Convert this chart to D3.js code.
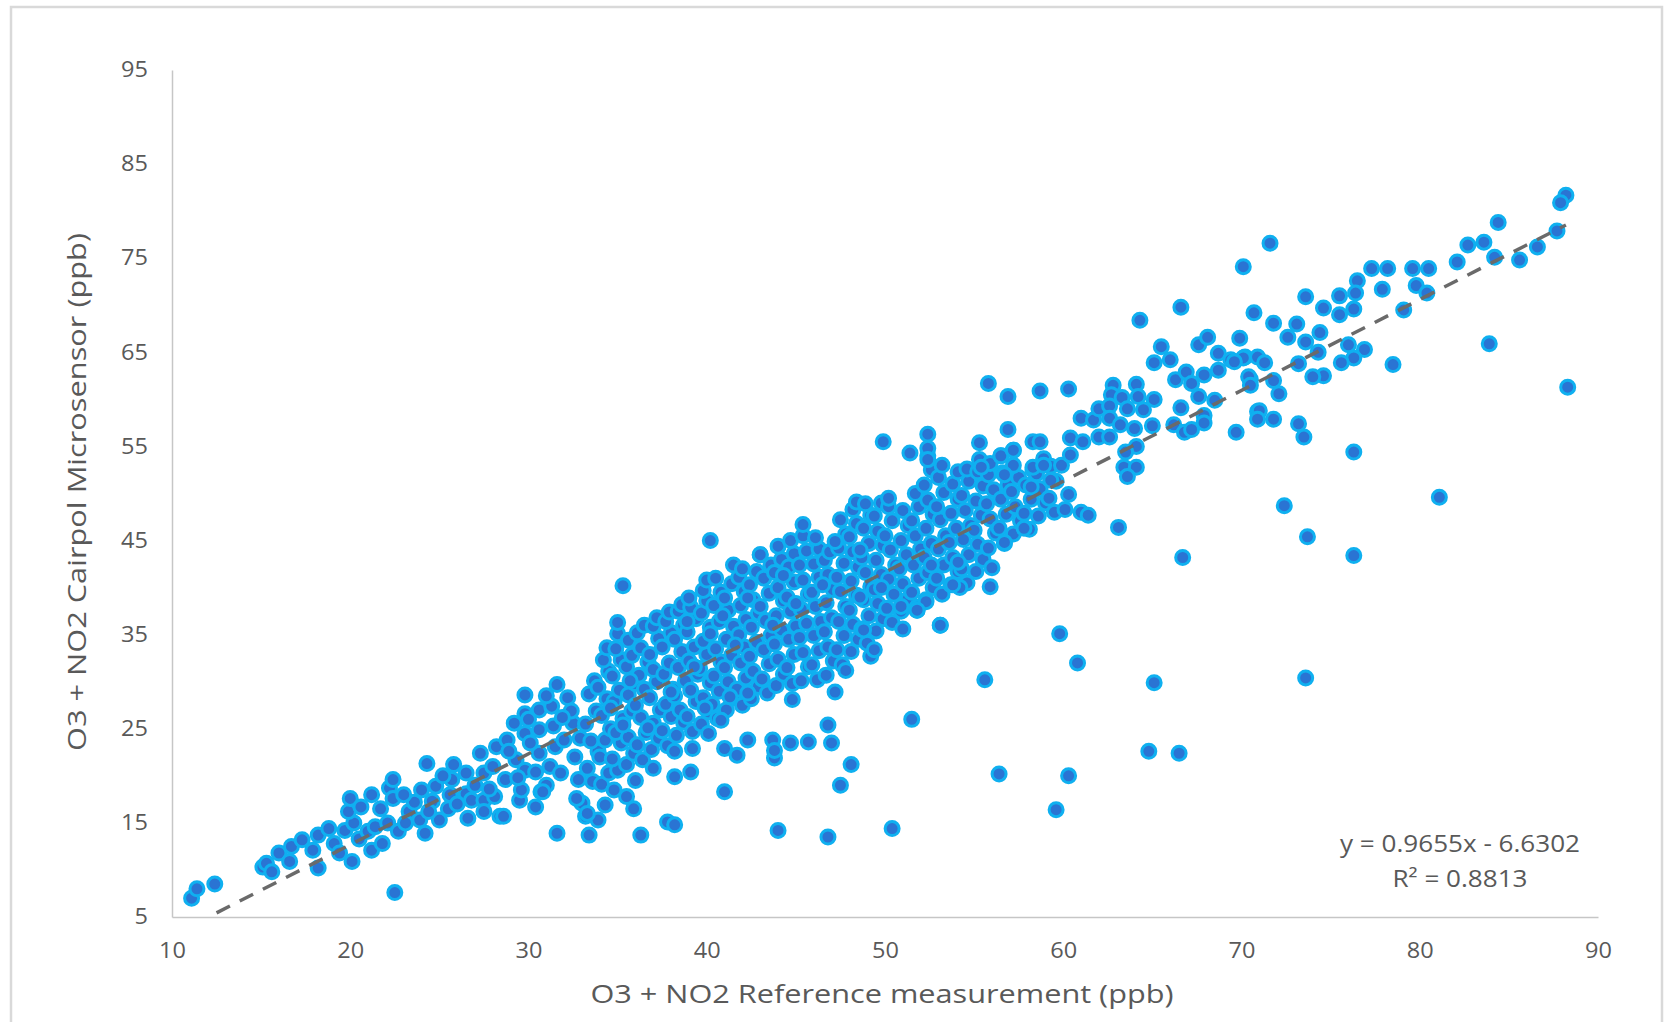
<!DOCTYPE html>
<html>
<head>
<meta charset="utf-8">
<script src="https://cdn.jsdelivr.net/npm/d3@7"></script>
<style>
  body { margin: 0; background: #fff; }
  text { font-family: "Open Sans", "Noto Sans", sans-serif; fill: #595959; }
</style>
</head>
<body>
<div id="chart"></div>
<script>
// axis ticks
const xTicks = [10, 20, 30, 40, 50, 60, 70, 80, 90];
const yTicks = [5, 15, 25, 35, 45, 55, 65, 75, 85, 95];

// [reference ppb, microsensor ppb]
const tailPoints = [
  [11.1,7.0],[11.4,8.0],[12.4,8.5],[15.1,10.3],[15.3,10.7],[15.6,9.8],[16.0,11.8],[16.6,10.9],[16.7,12.5],
  [17.3,13.2],[17.9,12.1],[18.2,10.2],[18.2,13.7],[18.8,14.4],[19.1,12.8],[19.4,11.8],[19.7,14.2],[20.1,10.9],
  [20.2,15.0],[20.5,13.3],[21.0,14.1],[21.2,12.1],[21.8,12.8],[21.4,14.6],[19.9,16.2],[20.0,17.6],[20.6,16.7],
  [21.2,18.0],[21.7,16.5],[22.2,18.7],[22.4,19.6],[22.4,17.6],[22.1,15.0],[22.7,14.1],[23.3,16.2],[23.1,15.0],
  [23.6,17.2],[23.9,15.3],[23.0,18.0]
];
const lowerBandPoints = [
  [24.3,21.3],[24.2,13.9],[24.8,18.9],[24.6,17.3],[25.0,15.3],[24.4,16.2],[25.8,21.2],[25.7,19.6],[25.6,18.0],
  [25.5,16.5],[26.6,15.5],[26.5,20.3],[26.5,18.1],[26.8,17.4],[27.3,22.4],[27.5,20.3],[27.5,17.4],[27.5,16.2],
  [28.4,15.7],[28.2,23.1],[28.0,21.0],[28.1,17.8],[28.8,23.8],[28.7,19.6],[29.3,21.7],[29.5,17.4],[30.4,16.7],
  [30.7,18.3],[29.8,28.6],[29.2,25.6],[29.8,26.6],[29.8,24.5],[29.8,20.6],[30.6,27.0],[30.6,24.9],[30.6,22.4],
  [30.4,20.4],[31.3,27.4],[31.5,23.1],[31.6,29.7],[31.4,25.3],[31.2,21.0],[31.0,19.0],[32.5,25.6],[32.2,28.3],
  [32.8,19.6],[33.2,15.7],[33.0,17.1],[32.6,22.0],[32.9,24.0],[32.4,26.9],[29.6,18.5],[30.8,18.3],[28.6,15.7],
  [27.0,19.0],[26.0,17.0],[25.2,20.0],[24.0,18.5],[27.8,18.6],[28.9,22.6],[29.4,19.8],[30.1,23.5],[30.0,26.0],
  [31.8,20.3],[32.0,23.8],[31.9,26.2],[31.0,28.5]
];
const midBandPoints = [
  [33.6,19.4],[33.3,20.8],[33.9,22.6],[33.5,23.7],[33.2,25.5],[33.8,26.9],[33.4,28.7],[33.7,30.1],
  [34.1,19.1],[34.5,20.3],[34.0,22.0],[34.3,23.8],[34.6,25.0],[34.1,26.4],[34.4,28.2],[33.9,29.4],[34.5,31.1],[34.2,32.3],[34.4,33.6],
  [35.0,20.6],[34.7,21.8],[35.2,23.5],[34.9,24.6],[35.3,26.1],[34.8,27.9],[35.1,29.1],[34.7,30.6],[35.2,32.3],[34.9,33.5],
  [35.0,35.1],[35.0,36.3],[35.3,40.2],
  [35.5,21.2],[35.9,22.4],[35.6,24.1],[35.3,25.4],[35.8,26.9],[35.6,28.6],[36.0,29.8],[35.5,31.6],[35.8,32.8],[35.6,34.4],
  [36.4,21.7],[36.1,23.3],[36.6,24.6],[36.3,26.2],[36.0,27.5],[36.5,29.2],[36.2,30.7],[36.7,32.1],[36.3,33.6],[36.1,35.2],[36.5,36.0],
  [36.9,22.8],[37.3,24.0],[37.0,25.6],[37.4,27.0],[36.8,28.3],[37.2,30.0],[37.0,31.3],[36.8,32.9],[37.3,34.6],[37.0,35.9],[37.2,36.8],
  [37.8,23.2],[37.5,24.8],[38.0,26.3],[37.7,27.6],[38.1,29.2],[37.6,30.8],[37.9,32.0],[37.5,33.7],[38.0,35.2],[37.7,36.4],[37.9,37.4],
  [38.3,24.3],[38.7,25.7],[38.5,27.0],[38.2,28.5],[38.8,30.1],[38.4,31.5],[38.6,33.2],[38.2,34.5],[38.7,36.0],[38.4,37.5],[38.6,38.2],
  [39.2,24.7],[38.9,26.3],[39.4,27.9],[39.1,29.1],[39.5,30.8],[39.0,32.2],[39.3,33.7],[38.9,35.3],[39.4,36.7],[39.1,37.9],[39.0,38.9],
  [39.7,25.5],[40.1,26.8],[39.8,28.3],[40.2,29.9],[39.6,31.4],[40.0,32.9],[39.8,34.3],[40.2,35.8],[39.7,37.3],[40.0,38.6],
  [39.8,39.7],[40.0,40.8],[40.2,45.0],
  [36.7,25.1],[38.0,28.9],[39.3,31.6],[38.9,36.4],[34.6,27.2],[35.7,30.1],
  [34.3,16.9],[35.9,16.5],[33.9,15.3],[33.3,16.0],[32.7,17.6],[35.5,17.8],[38.2,22.6],[39.2,22.9],[38.2,19.9],
  [39.1,20.4],[36.0,19.5],[34.8,18.5],[37.0,20.8]
];
const centerBandPoints = [
  [40.6,26.1],[40.3,27.6],[40.7,29.0],[40.4,30.6],[40.8,32.1],[40.5,33.5],[40.2,35.1],[40.7,36.4],[40.4,38.1],[40.8,39.5],[40.5,41.0],
  [41.1,27.0],[41.5,28.3],[41.2,30.0],[41.0,31.5],[41.4,32.8],[41.1,34.5],[41.5,35.9],[41.2,37.6],[41.0,38.9],[41.4,40.4],[41.5,42.4],
  [42.0,27.5],[41.7,29.2],[42.2,30.4],[41.9,32.0],[42.1,33.7],[41.8,35.0],[42.2,36.6],[41.9,38.1],[42.1,39.6],[41.8,41.1],[42.0,42.0],
  [42.5,28.2],[42.9,29.5],[42.6,31.1],[42.4,32.7],[42.8,34.2],[42.5,35.8],[42.9,37.3],[42.6,38.7],[42.4,40.3],[42.8,41.7],[43.0,43.5],
  [43.4,28.8],[43.1,30.3],[43.5,31.9],[43.2,33.4],[43.6,34.9],[43.3,36.5],[43.0,38.0],[43.5,39.4],[43.2,41.0],[43.6,42.4],
  [43.9,29.6],[44.3,30.8],[44.0,32.4],[43.8,34.0],[44.2,35.5],[43.9,37.0],[44.3,38.6],[44.0,40.0],[43.8,41.6],[44.2,43.0],[44.0,44.4],
  [44.8,29.8],[44.5,31.5],[44.9,32.9],[44.6,34.5],[45.0,35.9],[44.7,37.5],[44.5,39.0],[44.9,40.6],[44.6,42.2],[44.9,43.6],[44.7,45.0],
  [45.3,30.1],[45.7,31.6],[45.4,33.1],[45.2,34.7],[45.6,36.2],[45.3,37.7],[45.7,39.3],[45.4,40.8],[45.2,42.4],[45.6,43.9],[45.4,45.5],[45.4,46.7],
  [46.2,30.2],[45.9,31.8],[46.3,33.3],[46.0,34.9],[46.4,36.4],[46.1,38.0],[45.9,39.5],[46.3,41.1],[46.0,42.5],[46.3,44.1],[46.1,45.3],
  [46.7,30.7],[47.1,32.2],[46.8,33.7],[46.6,35.3],[47.0,36.8],[46.7,38.4],[47.1,39.8],[46.8,41.4],[46.6,42.9],[46.9,43.8],
  [47.6,31.8],[47.3,33.4],[47.7,34.9],[47.4,36.4],[47.8,38.0],[47.5,39.6],[47.3,41.1],[47.7,42.6],[47.4,44.2],[47.8,45.7],[47.5,47.2],
  [48.1,33.2],[48.5,34.5],[48.2,36.1],[48.0,37.6],[48.4,39.2],[48.1,40.7],[48.5,42.2],[48.2,43.8],[48.0,45.4],[48.4,46.8],[48.2,48.3],[48.4,49.1],
  [49.0,34.1],[48.7,35.6],[49.1,37.0],[48.8,38.7],[49.2,40.1],[48.9,41.6],[48.7,43.2],[49.1,44.7],[48.8,46.3],[49.2,47.7],[48.9,48.9],
  [49.5,35.4],[49.9,36.7],[49.6,38.3],[49.4,39.8],[49.8,41.4],[49.5,42.9],[49.9,44.5],[49.6,46.0],[49.4,47.6],[49.8,49.0],
  [41.6,33.9],[43.7,36.0],[45.0,38.3],[46.5,40.3],[44.3,41.3],[42.3,38.9],[40.9,37.0],[47.2,44.9],[48.6,44.0],
  [40.8,25.9],[39.9,27.2],[41.0,22.9],[41.7,22.2],[42.3,23.8],[43.7,23.8],[43.8,21.9],[43.8,22.7],[44.7,23.5],
  [45.7,23.6],[46.8,25.4],[47.0,23.5],[44.8,28.1],[47.2,28.9],[47.8,31.2],[42.3,28.8],[41.3,28.4],[49.2,32.7],
  [49.4,33.4],[48.1,21.2],[40.1,24.5],[43.0,43.5],[48.8,35.5]
];
const upperBandPoints = [
  [50.4,36.3],[50.1,37.8],[50.5,39.3],[50.2,40.9],[50.6,42.4],[50.3,44.0],[50.0,45.5],[50.4,47.1],[50.2,48.6],[50.2,49.5],
  [50.9,37.5],[51.3,38.8],[51.0,40.4],[50.8,42.0],[51.2,43.5],[50.9,45.0],[51.3,46.6],[51.0,48.2],
  [51.8,37.9],[51.5,39.5],[51.9,41.0],[51.6,42.4],[52.0,44.1],[51.7,45.5],[51.5,47.1],[51.9,48.6],[51.7,50.0],
  [52.3,38.7],[52.7,40.0],[52.4,41.6],[52.2,43.2],[52.6,44.7],[52.3,46.3],[52.7,47.8],[52.4,49.3],[52.2,50.9],[52.6,52.5],[52.4,54.0],
  [53.2,39.3],[52.9,41.0],[53.3,42.4],[53.0,44.1],[53.4,45.5],[53.1,47.2],[52.9,48.6],[53.3,50.1],[53.0,51.7],[53.2,53.0],
  [53.7,40.3],[54.1,41.7],[53.8,43.2],[53.6,44.8],[54.0,46.3],[53.7,47.9],[54.1,49.4],[53.8,51.0],[54.1,52.3],
  [54.6,40.5],[54.3,42.0],[54.7,43.5],[54.4,45.1],[54.8,46.6],[54.5,48.2],[54.3,49.8],[54.7,51.3],[54.6,52.6],
  [55.1,41.7],[55.5,43.0],[55.2,44.6],[55.0,46.1],[55.4,47.7],[55.1,49.2],[55.5,50.8],[55.2,52.3],[55.3,53.6],
  [55.9,40.1],[56.0,42.1],[55.8,44.2],[56.2,45.8],[55.9,47.3],[55.7,48.9],[56.1,50.4],[55.8,52.0],[55.9,53.2],
  [56.7,44.7],[56.4,46.3],[56.8,47.8],[56.5,49.4],[56.9,50.9],[56.6,52.2],[56.5,54.0],
  [57.2,45.7],[57.6,47.1],[57.3,48.6],[57.1,50.2],[57.5,51.7],[57.2,53.0],[57.2,54.6],
  [58.1,46.2],[57.8,47.9],[58.2,49.4],[57.9,50.9],[58.3,52.5],[58.3,55.5],
  [58.6,47.6],[59.0,49.0],[58.7,50.5],[58.5,52.1],[58.9,53.7],
  [59.5,48.0],[59.2,49.5],[59.6,51.3],[59.3,52.9],[60.1,48.3],[60.3,49.9],[59.9,53.0],[60.4,54.1],
  [50.9,38.0],[51.8,37.6],[51.0,35.6],[53.1,36.0],[52.3,38.5],[49.9,55.5],[51.4,54.3],[52.4,56.3],[52.4,54.8],
  [52.4,53.6],[55.3,55.4],[56.9,56.8],[56.5,54.0],[57.2,54.6],[58.7,55.5],[55.8,61.7],[56.9,60.3],[58.7,60.9],
  [60.3,61.1],[49.8,40.0],[48.6,39.0],[54.2,40.0],[53.8,40.3],[54.1,42.7],[52.6,42.4],[59.3,51.4],[58.2,50.7],
  [61.0,48.0],[61.4,47.7],[63.1,46.4],[57.8,46.3],[56.7,44.8],[55.4,52.8],[56.7,52.0],[58.3,52.8],[58.9,53.0]
];
const highBandPoints = [
  [60.4,55.9],[61.1,55.5],[61.0,58.0],[61.7,57.8],[62.0,59.0],[62.8,61.5],[62.7,60.5],[62.6,59.3],[62.6,58.0],
  [63.3,60.2],[63.6,59.0],[64.1,61.6],[64.2,60.3],[64.5,58.9],[65.1,60.0],[65.0,57.2],[63.2,57.3],[62.0,56.0],
  [62.6,56.0],[64.0,56.9],[64.1,55.0],[63.5,54.4],[63.4,52.8],[64.1,52.8],[63.6,51.8],[65.5,65.6],[65.1,63.9],
  [66.0,64.2],[66.3,62.1],[66.9,62.9],[67.6,65.8],[68.1,66.6],[67.9,62.6],[67.2,61.7],[68.7,64.9],[68.7,63.1],
  [69.4,64.2],[69.9,66.5],[70.2,64.5],[70.9,64.5],[70.5,62.1],[67.6,60.3],[66.6,59.1],[66.2,57.3],[66.8,56.5],
  [67.2,56.8],[67.9,58.3],[67.9,57.5],[68.5,59.9],[69.7,56.5],[70.9,58.7],[64.3,68.4],[66.6,69.8],[70.1,74.1],
  [71.6,76.6],[70.7,69.2],[71.8,68.1],[70.1,64.4],[69.6,64.0],[70.4,62.4],[70.5,61.5],[71.8,62.0],[72.1,60.6],
  [71.0,58.8],[70.9,57.9],[71.8,57.9],[71.3,63.9]
];
const topPoints = [
  [88.2,81.7],[87.9,80.9],[87.7,77.9],[86.6,76.2],[85.6,74.8],[84.4,78.8],[84.2,75.1],[83.6,76.7],[82.7,76.4],
  [82.1,74.6],[80.5,73.9],[79.6,73.9],[79.8,72.1],[80.4,71.3],[79.1,69.5],[78.2,73.9],[77.3,73.9],[77.9,71.7],
  [76.5,72.6],[76.4,71.3],[75.5,71.0],[76.3,69.6],[75.5,69.0],[74.6,69.7],[73.6,70.9],[73.1,68.0],[72.6,66.6],
  [73.6,66.1],[74.4,67.1],[74.3,65.0],[73.2,63.8],[76.0,65.8],[76.9,65.3],[76.3,64.4],[75.6,63.9],[74.6,62.5],
  [74.0,62.4],[78.5,63.7],[73.2,57.4],[73.5,56.0]
];
const offLinePoints = [
  [22.5,7.6],[31.6,13.9],[33.4,13.7],[36.3,13.7],[37.8,15.1],[38.2,14.8],[44.0,14.2],[46.8,13.5],[50.4,14.4],
  [41.0,18.3],[47.5,19.0],[51.5,26.0],[55.6,30.2],[56.4,20.2],[59.6,16.4],[60.3,20.0],[59.8,35.1],[60.8,32.0],
  [64.8,22.6],[66.5,22.4],[65.1,29.9],[73.6,30.4],[66.7,43.2],[72.4,48.7],[73.7,45.4],[76.3,43.4],[76.3,54.4],
  [81.1,49.6],[88.3,61.3],[83.9,65.9],[51.8,37.6],[53.1,36.0]
];

// linear trend line shown in the chart
const trendSlope = 0.9655;
const trendIntercept = -6.6302;
const trendFrom = 12.5, trendTo = 88.2;
const equationLines = ["y = 0.9655x - 6.6302", "R\u00B2 = 0.8813"];

const allPoints = [].concat(tailPoints, lowerBandPoints, midBandPoints, centerBandPoints,
  upperBandPoints, highBandPoints, topPoints, offLinePoints);

const width = 1666, height = 1022;
const svg = d3.select("#chart").append("svg")
  .attr("width", width)
  .attr("height", height);

// outer chart border
svg.append("rect")
  .attr("x", 11).attr("y", 7)
  .attr("width", 1651).attr("height", 1040)
  .attr("fill", "#fff")
  .attr("stroke", "#d9d9d9")
  .attr("stroke-width", 2.5);

const x = d3.scaleLinear().domain([10, 90]).range([172, 1598]);
const y = d3.scaleLinear().domain([5, 95]).range([917, 70]);

// axes
const xAxis = svg.append("g")
  .attr("transform", `translate(0,${y(5)})`)
  .call(d3.axisBottom(x).tickValues(xTicks).tickSize(0).tickPadding(26));
const yAxis = svg.append("g")
  .attr("transform", `translate(${x(10)},0)`)
  .call(d3.axisLeft(y).tickValues(yTicks).tickSize(0).tickPadding(24));

[xAxis, yAxis].forEach(g => {
  g.select(".domain").attr("stroke", "#c6c6c6").attr("stroke-width", 1.5);
  g.selectAll("text")
    .attr("font-size", 21)
    .attr("font-family", null)
    .attr("fill", "#595959");
});

// stretch tick labels slightly to the wider look of the original
svg.selectAll(".tick text").each(function () {
  const len = this.getComputedTextLength();
  d3.select(this).attr("textLength", len * 1.12).attr("lengthAdjust", "spacingAndGlyphs");
});

// points
svg.append("g")
  .selectAll("circle")
  .data(allPoints)
  .join("circle")
  .attr("cx", d => x(d[0]))
  .attr("cy", d => y(d[1]))
  .attr("r", 7)
  .attr("fill", "#2a74d3")
  .attr("stroke", "#0fb0f0")
  .attr("stroke-width", 3);

// dashed trend line on top of the markers
const line = d3.line()
  .x(d => x(d))
  .y(d => y(trendSlope * d + trendIntercept));
svg.append("path")
  .datum([trendFrom, trendTo])
  .attr("d", line)
  .attr("fill", "none")
  .attr("stroke", "#6a6a6a")
  .attr("stroke-width", 3.5)
  .attr("stroke-dasharray", "15,11");

// equation label
svg.selectAll(".eq")
  .data(equationLines)
  .join("text")
  .attr("class", "eq")
  .attr("x", 1460)
  .attr("y", (d, i) => 852 + i * 35)
  .attr("text-anchor", "middle")
  .attr("font-size", 24)
  .attr("textLength", (d, i) => i === 0 ? 240 : 135)
  .attr("lengthAdjust", "spacingAndGlyphs")
  .text(d => d);

// axis titles
svg.append("text")
  .attr("x", 882)
  .attr("y", 1003)
  .attr("text-anchor", "middle")
  .attr("font-size", 26)
  .attr("textLength", 583)
  .attr("lengthAdjust", "spacingAndGlyphs")
  .text("O3 + NO2 Reference measurement (ppb)");

svg.append("text")
  .attr("transform", "translate(86,492) rotate(-90)")
  .attr("text-anchor", "middle")
  .attr("font-size", 26)
  .attr("textLength", 518)
  .attr("lengthAdjust", "spacingAndGlyphs")
  .text("O3 + NO2 Cairpol Microsensor (ppb)");
</script>
</body>
</html>
